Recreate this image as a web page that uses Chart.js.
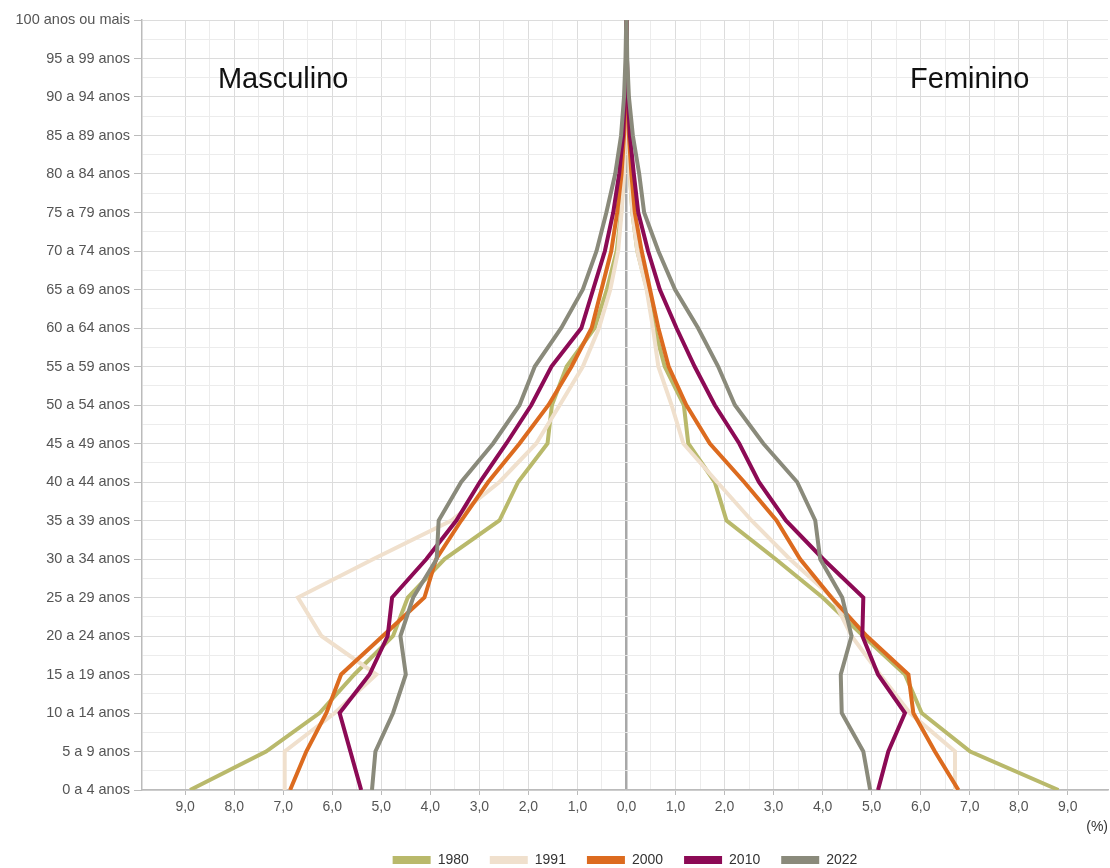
<!DOCTYPE html>
<html>
<head>
<meta charset="utf-8">
<script src="https://cdn.jsdelivr.net/npm/chart.js@4.4.1/dist/chart.umd.min.js"></script>
<style>
  html, body { margin: 0; padding: 0; background: #fff; }
  #wrap { width: 1110px; height: 868px; }
</style>
</head>
<body>
<div id="wrap"><canvas id="pyramidChart"></canvas></div>
<script>
// faixas etárias (eixo vertical)
const faixas = ['0 a 4 anos', '5 a 9 anos', '10 a 14 anos', '15 a 19 anos', '20 a 24 anos',
    '25 a 29 anos', '30 a 34 anos', '35 a 39 anos', '40 a 44 anos', '45 a 49 anos',
    '50 a 54 anos', '55 a 59 anos', '60 a 64 anos', '65 a 69 anos', '70 a 74 anos',
    '75 a 79 anos', '80 a 84 anos', '85 a 89 anos', '90 a 94 anos', '95 a 99 anos',
    '100 anos ou mais'];

const anos = ['1980', '1991', '2000', '2010', '2022'];
const cores = ['#b9b96b', '#f0e0cd', '#dc6b1f', '#8c0a55', '#8a8a7b'];

// percentual da população, por faixa (homens)
const homens1980 = [8.90, 7.35, 6.26, 5.55, 4.76, 4.46, 3.71, 2.59, 2.21, 1.61, 1.52, 1.22, 0.65, 0.40, 0.20, 0.11, 0.06, 0.03, 0.012, 0.005, 0.002];
const homens1991 = [6.97, 6.97, 5.95, 5.10, 6.22, 6.70, 5.16, 3.57, 2.59, 1.84, 1.36, 0.89, 0.56, 0.33, 0.17, 0.10, 0.05, 0.03, 0.012, 0.005, 0.002];
const homens2000 = [6.86, 6.53, 6.12, 5.82, 4.97, 4.12, 3.88, 3.37, 2.82, 2.18, 1.59, 1.12, 0.71, 0.51, 0.31, 0.19, 0.10, 0.05, 0.02, 0.008, 0.003];
const homens2010 = [5.41, 5.63, 5.85, 5.24, 4.87, 4.78, 4.08, 3.47, 2.99, 2.45, 1.94, 1.53, 0.92, 0.68, 0.44, 0.27, 0.15, 0.07, 0.03, 0.01, 0.003];
const homens2022 = [5.19, 5.12, 4.76, 4.50, 4.61, 4.35, 3.87, 3.83, 3.37, 2.72, 2.18, 1.87, 1.33, 0.89, 0.61, 0.41, 0.23, 0.11, 0.05, 0.02, 0.005];

// percentual da população, por faixa (mulheres)
const mulheres1980 = [8.81, 7.01, 6.02, 5.68, 4.83, 4.00, 3.04, 2.04, 1.80, 1.26, 1.17, 0.78, 0.57, 0.42, 0.22, 0.12, 0.07, 0.035, 0.015, 0.006, 0.003];
const mulheres1991 = [6.70, 6.70, 5.78, 5.17, 4.59, 4.20, 3.33, 2.55, 1.85, 1.16, 0.92, 0.65, 0.54, 0.41, 0.22, 0.12, 0.07, 0.035, 0.015, 0.006, 0.003];
const mulheres2000 = [6.77, 6.29, 5.85, 5.75, 4.90, 4.18, 3.54, 3.06, 2.40, 1.70, 1.22, 0.86, 0.65, 0.48, 0.31, 0.17, 0.10, 0.05, 0.02, 0.008, 0.003];
const mulheres2010 = [5.13, 5.34, 5.68, 5.13, 4.81, 4.83, 4.01, 3.25, 2.70, 2.30, 1.80, 1.39, 1.02, 0.68, 0.44, 0.24, 0.15, 0.07, 0.03, 0.01, 0.004];
const mulheres2022 = [4.97, 4.83, 4.39, 4.37, 4.59, 4.40, 3.95, 3.85, 3.48, 2.79, 2.21, 1.87, 1.46, 0.99, 0.65, 0.36, 0.26, 0.13, 0.05, 0.015, 0.005];

const homens = [homens1980, homens1991, homens2000, homens2010, homens2022];
const mulheres = [mulheres1980, mulheres1991, mulheres2000, mulheres2010, mulheres2022];

Chart.defaults.font.family = '"Liberation Sans", Arial, sans-serif';

const ehInteiro = v => Math.abs(v - Math.round(v)) < 1e-6;

// monta os datasets: lado masculino negativo, feminino positivo
const datasets = [];
anos.forEach((ano, i) => {
    const base = {
        label: ano,
        borderColor: cores[i],
        backgroundColor: cores[i],
        borderWidth: 4,
        pointRadius: 0,
        showLine: true,
        tension: 0,
        order: anos.length - i
    };
    datasets.push({ ...base, data: homens[i].map((v, k) => ({ x: -v, y: k })) });
    datasets.push({ ...base, data: mulheres[i].map((v, k) => ({ x: v, y: k })) });
});

// textos "Masculino" / "Feminino"
const rotulosSexo = {
    id: 'rotulosSexo',
    afterDatasetsDraw(chart) {
        const { ctx, scales: { x, y } } = chart;
        ctx.save();
        ctx.font = '29px "Liberation Sans", Arial, sans-serif';
        ctx.fillStyle = '#111';
        ctx.textAlign = 'center';
        ctx.textBaseline = 'middle';
        ctx.fillText('Masculino', x.getPixelForValue(-7), y.getPixelForValue(18.45));
        ctx.fillText('Feminino', x.getPixelForValue(7), y.getPixelForValue(18.45));
        ctx.restore();
    }
};

new Chart(document.getElementById('pyramidChart'), {
    type: 'scatter',
    data: { datasets },
    plugins: [rotulosSexo],
    options: {
        responsive: true,
        maintainAspectRatio: false,
        animation: false,
        layout: { padding: { top: 20, right: 2, bottom: -9, left: 0 } },
        plugins: {
            tooltip: { enabled: false },
            legend: {
                position: 'bottom',
                fullSize: false,
                labels: {
                    boxWidth: 38,
                    boxHeight: 8,
                    padding: 21,
                    color: '#333',
                    font: { size: 14 },
                    generateLabels: chart => Chart.defaults.plugins.legend.labels.generateLabels(chart)
                        .filter(l => l.datasetIndex % 2 === 0)
                        .sort((a, b) => a.datasetIndex - b.datasetIndex)
                        .map(l => ({ ...l, lineWidth: 0 }))
                },
                onClick: () => {}
            }
        },
        scales: {
            x: {
                type: 'linear',
                min: -9.88,
                max: 9.82,
                afterFit: s => { s.height = 42; },
                afterBuildTicks: axis => { axis.ticks = axis.ticks.filter(t => ehInteiro(t.value * 2)); },
                ticks: {
                    stepSize: 0.5,
                    autoSkip: false,
                    maxRotation: 0,
                    padding: 4,
                    color: '#555',
                    font: { size: 14 },
                    callback: v => ehInteiro(v) ? Math.abs(v).toFixed(1).replace('.', ',') : ''
                },
                grid: {
                    color: c => c.tick.value === 0 ? '#a8a8a8' : (ehInteiro(c.tick.value) ? '#dcdcdc' : '#ececec'),
                    lineWidth: c => c.tick.value === 0 ? 2.5 : 1,
                    tickColor: c => ehInteiro(c.tick.value) && c.tick.value !== 0 ? '#bbb' : 'rgba(0,0,0,0)',
                    tickLength: 5
                },
                border: { color: '#bbb', width: 1.5 },
                title: {
                    display: true,
                    text: '(%)',
                    align: 'end',
                    color: '#333',
                    font: { size: 14 },
                    padding: { top: 2, bottom: -4 }
                }
            },
            y: {
                type: 'linear',
                min: 0,
                max: 20,
                afterFit: s => { s.width = 142; },
                afterBuildTicks: axis => { axis.ticks = axis.ticks.filter(t => ehInteiro(t.value * 2)); },
                ticks: {
                    stepSize: 0.5,
                    autoSkip: false,
                    padding: 4,
                    color: '#555',
                    font: { size: 14.5 },
                    callback: v => ehInteiro(v) ? faixas[Math.round(v)] : ''
                },
                grid: {
                    color: c => ehInteiro(c.tick.value) ? '#dcdcdc' : '#ececec',
                    tickColor: c => ehInteiro(c.tick.value) ? '#bbb' : 'rgba(0,0,0,0)',
                    tickLength: 8
                },
                border: { color: '#bbb', width: 1.5 }
            }
        }
    }
});
</script>
</body>
</html>
